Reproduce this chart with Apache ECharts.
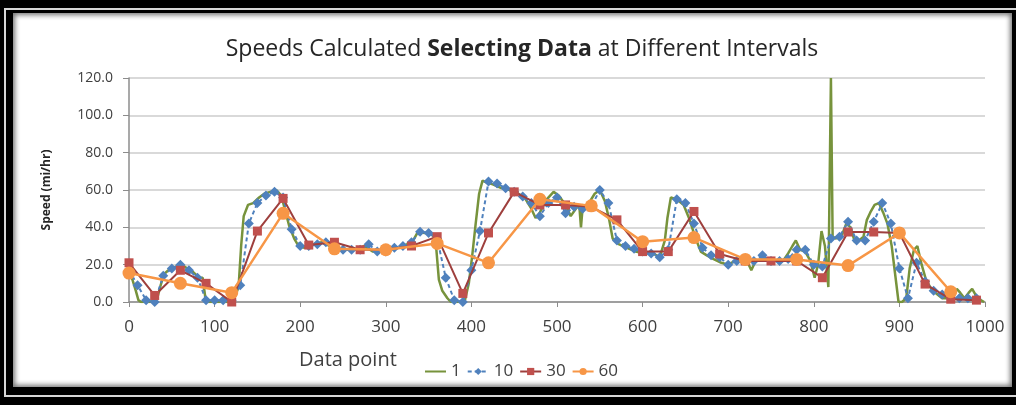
<!DOCTYPE html>
<html>
<head>
<meta charset="utf-8">
<script src="https://cdn.jsdelivr.net/npm/echarts@6/dist/echarts.min.js"></script>
<style>
  html, body { margin: 0; padding: 0; background: #000; }
  .outer-line {
    position: absolute; left: 4px; top: 8px; width: 1030px; height: 389px;
    border: 2px solid #d8d8d8; box-sizing: border-box;
  }
  .panel {
    position: absolute; left: 13px; top: 13px; width: 999px; height: 374px;
    background: #fff; box-shadow: inset 0 0 5px 2px #777;
  }
  #chart { position: absolute; left: 0; top: 0; width: 1016px; height: 405px; }
</style>
</head>
<body>
<div class="outer-line"></div>
<div class="panel"></div>
<div id="chart"></div>
<script>
// interval 1 -> raw data points
const rawX = [0, 4, 8, 11, 14, 25, 33, 37, 41, 46, 55, 62, 68, 75, 82, 86, 89, 92, 100, 110,
  118, 124, 128, 131, 134, 139, 145, 152, 158, 165, 172, 178, 183, 187, 193, 198, 205, 215, 225, 235,
  245, 255, 265, 275, 285, 295, 305, 315, 325, 332, 338, 345, 352, 358, 362, 366, 372, 376, 385, 392,
  397, 401, 405, 409, 413, 418, 425, 435, 445, 455, 462, 470, 475, 480, 488, 496, 502, 510, 516, 522,
  526, 528, 530, 536, 544, 550, 556, 561, 565, 572, 582, 592, 602, 612, 620, 626, 629, 633, 640, 648,
  655, 662, 668, 675, 683, 692, 700, 708, 716, 722, 727, 732, 740, 748, 756, 764, 770, 775, 779, 784,
  790, 796, 801, 805, 809, 813, 817, 820, 822, 826, 833, 838, 843, 848, 853, 858, 862, 866, 871, 876,
  881, 886, 891, 895, 899, 903, 908, 912, 917, 921, 926, 931, 936, 942, 950, 958, 964, 967, 971, 976,
  981, 985, 990, 995, 999]
const rawSpeed = [15, 12, 6, 1, 0, 0, 2, 9, 15, 17, 19, 20, 18, 16, 13, 13, 3, 0, 0, 0,
  0, 3, 8, 30, 46, 52, 53, 56, 58, 59, 60, 57, 48, 41, 34, 30, 29, 31, 32, 30,
  29, 28, 28, 30, 27, 27, 28, 29, 31, 33, 38, 37, 37, 34, 12, 6, 2, 0, 0, 0,
  10, 25, 42, 58, 65, 64, 63, 61, 60, 58, 56, 50, 45, 48, 55, 59, 57, 52, 46, 50,
  52, 40, 51, 52, 58, 60, 54, 44, 34, 31, 29, 27, 26, 26, 24, 33, 45, 56, 55, 52,
  44, 34, 27, 25, 23, 21, 20, 22, 22, 22, 17, 22, 23, 23, 22, 22, 26, 30, 33, 28,
  27, 22, 13, 20, 38, 30, 8, 120, 35, 34, 36, 42, 40, 32, 33, 35, 44, 48, 52, 53,
  48, 42, 30, 15, 0, 0, 2, 18, 28, 30, 20, 12, 8, 5, 2, 2, 4, 7, 5, 2,
  5, 7, 3, 1, 0]

// every 10th data point
const step10 = 10
const speed10 = [17, 9, 1, 0, 14, 18, 20, 17, 13, 1,
  1, 1, 1, 9, 42, 53, 57, 59, 56, 39,
  30, 30, 31, 32, 30, 28, 28, 28, 31, 27,
  27, 29, 30, 32, 37.7, 37, 34, 13, 1, 0,
  17, 38, 64.5, 63.5, 61, 59, 56.5, 53, 46, 53,
  56, 47.5, 51, 50, 51, 60, 53, 33, 30, 28.5,
  27, 26, 24, 28, 55, 53, 42, 29, 25, 24,
  20, 22, 22, 22, 25, 22, 22, 23, 28, 28,
  20, 19, 34, 35, 43, 33, 33, 43, 53, 42,
  18, 2, 21, 11, 6, 4, 2, 2, 2, 2]

// every 30th data point
const step30 = 30
const speed30 = [21, 3.5, 17, 10, 0, 38, 55.5, 30.5, 32, 28,
  28, 30, 35, 4.6, 37, 59, 52, 52, 51, 44,
  27, 27, 48.5, 25.7, 22, 22, 22, 13, 37.5, 37.5,
  37, 9.6, 1.5, 1]

// every 60th data point
const step60 = 60
const speed60 = [15.5, 10, 5, 47.5, 28.5, 28, 31.4, 21, 55, 51.5,
  32.3, 34.5, 22.8, 22.8, 19.5, 37, 5.5]

const yTicks = { min: 0, max: 120, interval: 20 }
const xTicks = { min: 0, max: 1000, interval: 100 }

const FONT = '"Open Sans", Lato, sans-serif'

function pairs(xs, ys) {
  return ys.map((v, i) => [xs[i], v])
}
function stepped(step, ys) {
  return ys.map((v, i) => [i * step, v])
}

const chart = echarts.init(document.getElementById('chart'))

const option = {
  animation: false,
  backgroundColor: 'transparent',
  title: {
    text: '{a|Speeds Calculated }{b|Selecting Data}{a| at Different Intervals}',
    left: 517,
    top: 33,
    textAlign: 'center',
    textStyle: {
      rich: {
        a: { fontFamily: FONT, fontSize: 23, fontWeight: 'normal', color: '#262626' },
        b: { fontFamily: FONT, fontSize: 23, fontWeight: 'bold', color: '#262626' }
      }
    }
  },
  legend: {
    data: [
      { name: '1', icon: 'path://M0,0 L26,0 L26,2.5 L0,2.5 Z' },
      '10', '30', '60'
    ],
    left: 420,
    top: 358,
    itemWidth: 21,
    itemHeight: 9,
    itemGap: 6,
    textStyle: { fontFamily: FONT, fontSize: 17, color: '#404040' }
  },
  grid: {
    left: 129,
    right: 31,
    top: 78,
    bottom: 103,
    containLabel: false,
    outerBoundsMode: 'none'
  },
  xAxis: {
    type: 'value',
    min: xTicks.min,
    max: xTicks.max,
    interval: xTicks.interval,
    axisLine: { show: true, lineStyle: { color: '#8c8c8c', width: 1.5 } },
    axisTick: { show: true, length: 5, lineStyle: { color: '#8c8c8c' } },
    axisLabel: {
      fontFamily: FONT, fontSize: 17, color: '#404040', margin: 17,
      formatter: (v) => String(v)
    },
    splitLine: { show: false }
  },
  yAxis: {
    type: 'value',
    min: yTicks.min,
    max: yTicks.max,
    interval: yTicks.interval,
    name: 'Speed (mi/hr)',
    nameLocation: 'middle',
    nameGap: 76,
    nameTextStyle: { fontFamily: FONT, fontSize: 12, fontWeight: 'bold', color: '#262626' },
    axisLine: { show: true, lineStyle: { color: '#8c8c8c', width: 1.5 } },
    axisTick: { show: true, length: 6, lineStyle: { color: '#8c8c8c' } },
    axisLabel: {
      fontFamily: FONT, fontSize: 14, color: '#404040', margin: 16,
      formatter: (v) => v.toFixed(1)
    },
    splitLine: { show: true, lineStyle: { color: '#cdcdcd', width: 1.5 } }
  },
  graphic: [
    {
      type: 'text',
      left: 299,
      top: 350,
      style: { text: 'Data point', fontFamily: FONT, fontSize: 20, fill: '#404040' }
    }
  ],
  series: [
    {
      name: '1',
      type: 'line',
      data: pairs(rawX, rawSpeed),
      symbol: 'none',
      itemStyle: { color: '#77933C' },
      lineStyle: { color: '#77933C', width: 2.5 },
      z: 1
    },
    {
      name: '10',
      type: 'line',
      data: stepped(step10, speed10),
      symbol: 'diamond',
      symbolSize: 10,
      itemStyle: { color: '#4F81BD' },
      lineStyle: { color: '#4F81BD', width: 2, type: [4, 3] },
      z: 2
    },
    {
      name: '30',
      type: 'line',
      data: stepped(step30, speed30),
      symbol: 'rect',
      symbolSize: 9,
      itemStyle: { color: '#C0504D' },
      lineStyle: { color: '#9E3F3D', width: 2 },
      z: 3
    },
    {
      name: '60',
      type: 'line',
      data: stepped(step60, speed60),
      symbol: 'circle',
      symbolSize: 13,
      itemStyle: { color: '#F79646' },
      lineStyle: { color: '#F79646', width: 2.5 },
      z: 4
    }
  ]
}

chart.setOption(option)
</script>
</body>
</html>
